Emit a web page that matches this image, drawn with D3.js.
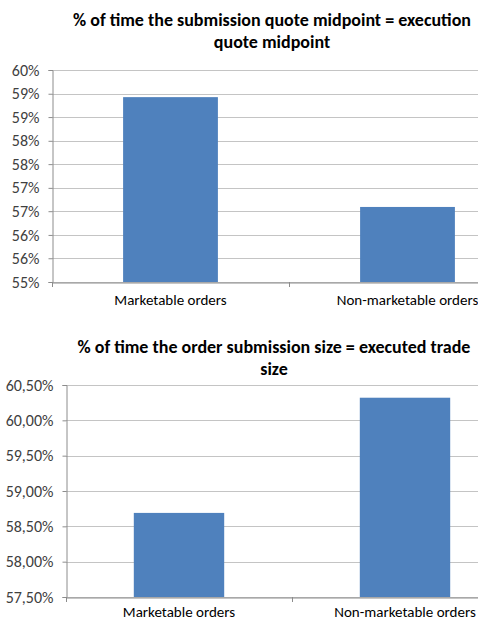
<!DOCTYPE html>
<html>
<head>
<meta charset="utf-8">
<script src="https://cdn.jsdelivr.net/npm/d3@7"></script>
<style>
  body { margin: 0; background: #fff; }
  svg { display: block; }
</style>
</head>
<body>
<div id="chart"></div>
<script>
/*global d3*/

// shared categories
var categories = ["Marketable orders", "Non-marketable orders"];

// chart 1: quote midpoint
var title1 = ["% of time the submission quote midpoint = execution", "quote midpoint"];
var values1 = [0.5936, 0.5677];
var ticks1 = [0.55, 0.5556, 0.5611, 0.5667, 0.5722, 0.5778, 0.5833, 0.5889, 0.5944, 0.60];

// chart 2: trade size
var title2 = ["% of time the order submission size = executed trade", "size"];
var values2 = [0.5869, 0.6032];
var ticks2 = [0.575, 0.58, 0.585, 0.59, 0.595, 0.60, 0.605];

var width = 478, height = 622;
var font = "Carlito, 'Open Sans', 'Liberation Sans', sans-serif";

var svg = d3.select("#chart").append("svg")
  .attr("width", width)
  .attr("height", height)
  .style("font-family", font);

function drawChart(opts) {
  var g = svg.append("g");

  var x = d3.scaleBand()
    .domain(opts.categories)
    .range([opts.left, opts.left + opts.band * 2])
    .paddingInner(0)
    .paddingOuter(0);

  var y = d3.scaleLinear()
    .domain([opts.ticks[0], opts.ticks[opts.ticks.length - 1]])
    .range([opts.bottom, opts.top]);

  // title
  g.append("text")
    .attr("x", opts.titleX)
    .attr("y", opts.titleY)
    .attr("text-anchor", "middle")
    .style("font-weight", "bold")
    .style("font-size", "18px")
    .style("fill", "#000")
    .selectAll("tspan")
    .data(opts.title)
    .enter()
    .append("tspan")
    .attr("x", opts.titleX)
    .attr("dy", function(d, i) { return i === 0 ? 0 : 21.5; })
    .text(function(d) { return d; });

  // gridlines
  g.selectAll("line.grid")
    .data(opts.ticks)
    .enter()
    .append("line")
    .attr("class", "grid")
    .attr("x1", opts.left)
    .attr("x2", width)
    .attr("y1", function(d) { return Math.round(y(d)) + 0.5; })
    .attr("y2", function(d) { return Math.round(y(d)) + 0.5; })
    .style("stroke", "#c4c4c4")
    .style("stroke-width", 1.2);

  // bars
  var barW = opts.band / 2.5;
  g.selectAll("rect")
    .data(opts.values)
    .enter()
    .append("rect")
    .attr("x", function(d, i) { return x(opts.categories[i]) + (opts.band - barW) / 2; })
    .attr("y", function(d) { return y(d); })
    .attr("width", barW)
    .attr("height", function(d) { return opts.bottom - y(d); })
    .style("fill", "#4f81bd");

  // y axis
  var yAxis = d3.axisLeft(y)
    .tickValues(opts.ticks)
    .tickSize(4)
    .tickFormat(opts.fmt);
  var ya = g.append("g")
    .attr("transform", "translate(" + (opts.left + 0.5) + ",0)")
    .call(yAxis);
  ya.select(".domain").style("stroke", "#8c8c8c");
  ya.selectAll(".tick line").style("stroke", "#8c8c8c");
  ya.selectAll(".tick text")
    .style("font-family", font)
    .style("font-size", "16px")
    .style("fill", "#404040")
    .attr("x", -13);

  // x axis
  var xAxis = d3.axisBottom(x)
    .tickSize(0)
    .tickSizeOuter(0);
  var xa = g.append("g")
    .attr("transform", "translate(0," + (Math.round(opts.bottom) + 0.5) + ")")
    .call(xAxis);
  xa.select(".domain").style("stroke", "#8c8c8c");
  xa.selectAll(".tick text")
    .style("font-family", font)
    .style("font-size", "15px")
    .style("fill", "#000")
    .attr("y", opts.labelDy);

  // category separator ticks
  g.selectAll("line.sep")
    .data([opts.left, opts.left + opts.band])
    .enter()
    .append("line")
    .attr("class", "sep")
    .attr("x1", function(d) { return d + 0.5; })
    .attr("x2", function(d) { return d + 0.5; })
    .attr("y1", opts.bottom)
    .attr("y2", opts.bottom + 5)
    .style("stroke", "#8c8c8c");
}

drawChart({
  categories: categories,
  values: values1,
  ticks: ticks1,
  title: title1,
  titleX: 272, titleY: 26,
  left: 52, band: 237,
  top: 70, bottom: 282,
  labelDy: 12,
  fmt: d3.format(".0%")
});

drawChart({
  categories: categories,
  values: values2,
  ticks: ticks2,
  title: title2,
  titleX: 274, titleY: 353,
  left: 66, band: 226,
  top: 385, bottom: 597,
  labelDy: 9,
  fmt: function(d) { return d3.format(".2%")(d).replace(".", ","); }
});
</script>
</body>
</html>
